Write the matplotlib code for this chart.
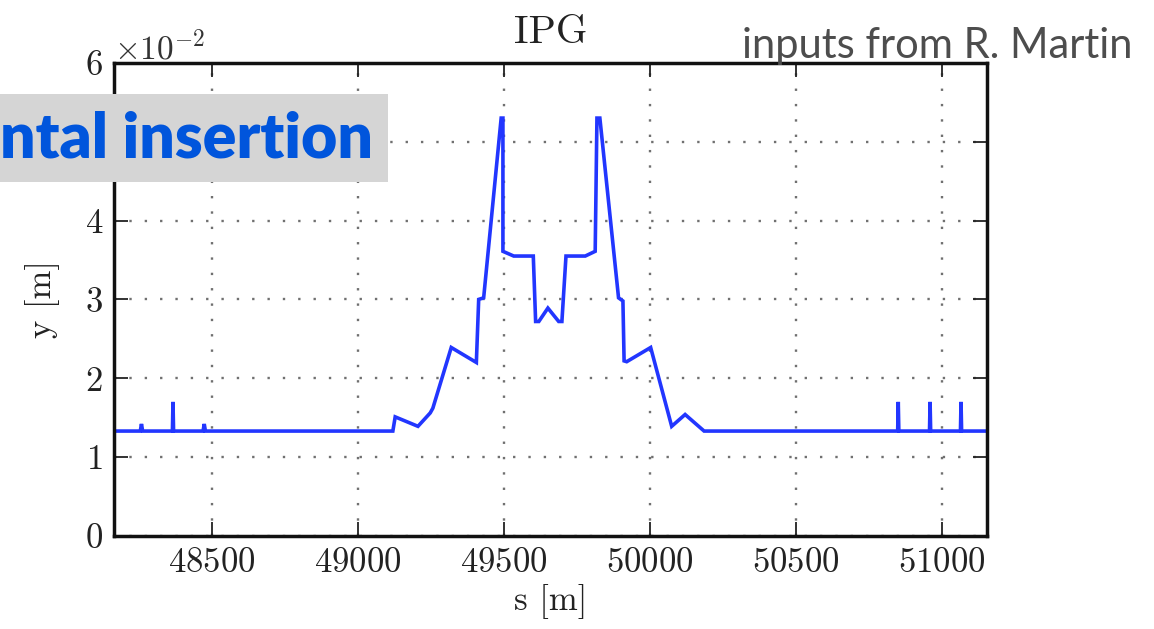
import matplotlib
matplotlib.use("Agg")
import matplotlib.pyplot as plt
from matplotlib.patches import Rectangle
from matplotlib.ticker import ScalarFormatter

# ---- data (s in m, y in m) ----
s_m = [48165, 48255, 48259, 48263, 48365, 48367, 48369, 48470, 48474, 48478,
       49120, 49128, 49206, 49248, 49257, 49320, 49406, 49414, 49431, 49491,
       49497, 49497, 49534, 49601, 49609, 49620, 49651, 49688, 49699, 49713,
       49779, 49813, 49819, 49829, 49893, 49908, 49912, 49921, 50003, 50075,
       50121, 50186, 50849, 50851, 50853, 50958, 50960, 50962, 51064, 51066,
       51068, 51155]
y_m = [0.0133, 0.0133, 0.0142, 0.0133, 0.0133, 0.0170, 0.0133, 0.0133, 0.0142, 0.0133,
       0.0133, 0.0151, 0.0139, 0.0156, 0.0162, 0.0239, 0.0220, 0.0300, 0.0302, 0.0530,
       0.0530, 0.0361, 0.0355, 0.0355, 0.0272, 0.0272, 0.0289, 0.0272, 0.0272, 0.0355,
       0.0355, 0.0361, 0.0530, 0.0530, 0.0302, 0.0298, 0.0222, 0.0221, 0.0239, 0.0139,
       0.0154, 0.0133, 0.0133, 0.0170, 0.0133, 0.0133, 0.0170, 0.0133, 0.0133, 0.0170,
       0.0133, 0.0133]
x_ticks = [48500, 49000, 49500, 50000, 50500, 51000]
y_ticks = [0.0, 0.01, 0.02, 0.03, 0.04, 0.05, 0.06]

plt.rcParams['font.family'] = 'cmr10'
plt.rcParams['mathtext.fontset'] = 'cm'
plt.rcParams['axes.formatter.use_mathtext'] = True
plt.rcParams['axes.unicode_minus'] = True

fig = plt.figure(figsize=(11.54, 6.29), dpi=100)
ax = fig.add_axes([0.0988, 0.148, 0.7565, 0.752])

ax.plot(s_m, y_m, color='#2236ff', lw=2.6, solid_joinstyle='miter')

ax.set_xlim(48165, 51155)
ax.set_ylim(0, 0.06)
ax.set_xticks(x_ticks)
ax.set_yticks(y_ticks)
fmt = ScalarFormatter(useMathText=True)
fmt.set_powerlimits((-1, 1))
ax.yaxis.set_major_formatter(fmt)
ax.xaxis.set_major_formatter(ScalarFormatter(useOffset=False))

ax.grid(True, color='#707070', linestyle=(0, (1, 5.5)), linewidth=1.7)
ax.tick_params(direction='in', length=10, width=1.3, top=True, right=True,
               labelsize=25, colors='#222222', pad=8)
for sp in ax.spines.values():
    sp.set_linewidth(2.5)
    sp.set_color('#111111')
off = ax.yaxis.get_offset_text()
off.set_fontsize(24)
off.set_color('#333333')
off.set_y(1.01)

ax.set_xlabel('s [m]', fontsize=25, color='#222222', labelpad=4)
ax.set_ylabel('y [m]', fontsize=25, color='#222222', labelpad=18)
ax.set_title('IPG', fontsize=29, color='#222222', pad=14)

# tick label "5" is hidden behind the annotation box in the reference
fig.canvas.draw()
ax.yaxis.get_major_ticks()[5].label1.set_visible(False)

# overlay annotation box
fig.patches.append(Rectangle((0, 1 - 182 / 629), 388 / 1154, 88 / 629,
                             transform=fig.transFigure, facecolor='#d5d5d5',
                             edgecolor='none', zorder=5))
fig.text(0.0, 1 - 158 / 629, 'ntal insertion', fontsize=45, fontweight='heavy',
         family='Lato', color='#0055dc', ha='left', va='baseline', zorder=6)
fig.text(1133 / 1154, 1 - 58 / 629, 'inputs from R. Martin', fontsize=30,
         family='Lato', fontweight='normal', color='#4d4d4d', ha='right',
         va='baseline', zorder=6)

fig.savefig('out.png', dpi=100)
